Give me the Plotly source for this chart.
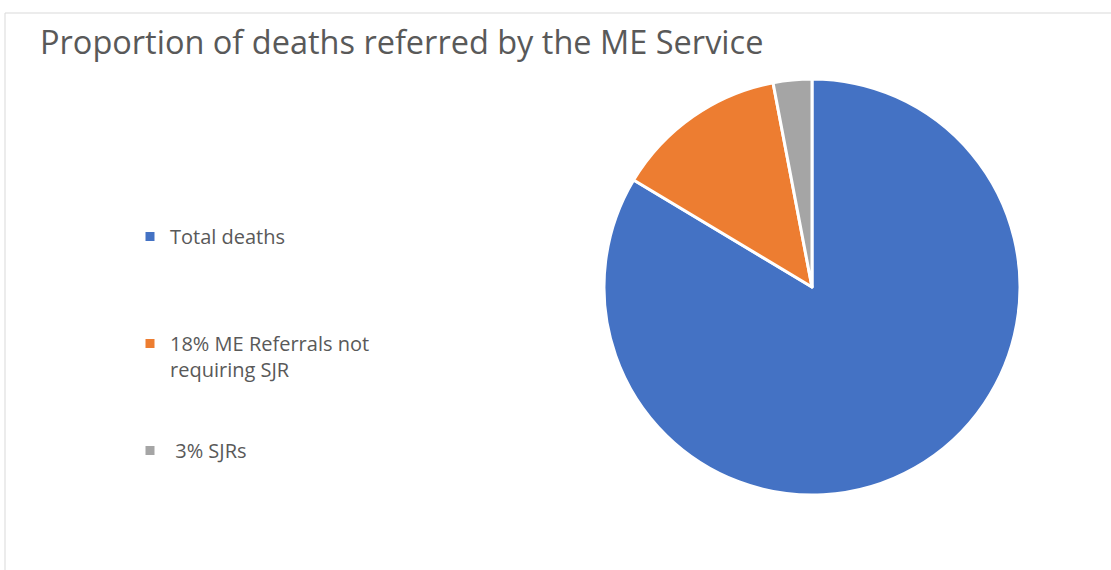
import plotly.graph_objects as go

# Slice categories and their shares of the pie
categories = ["Total deaths", "18% ME Referrals not<br>requiring SJR", " 3% SJRs"]
shares = [83.6, 13.4, 3.0]
colors = ["#4472C4", "#ED7D31", "#A5A5A5"]

# Blank lines after each legend label spread the entries down the left side
pad_lines = [3, 2, 0]
legend_labels = [c + "<br>&nbsp;" * n for c, n in zip(categories, pad_lines)]

W, H = 1111, 570
cx, cy, r = 812, 287, 208  # pie centre and radius in pixels

fig = go.Figure(
    go.Pie(
        labels=legend_labels,
        values=shares,
        sort=False,
        direction="clockwise",
        rotation=0,
        marker=dict(colors=colors, line=dict(color="white", width=3)),
        textinfo="none",
        hoverinfo="label+percent",
        domain=dict(
            x=[(cx - r) / W, (cx + r) / W],
            y=[(H - cy - r) / H, (H - cy + r) / H],
        ),
    )
)

fig.update_layout(
    width=W,
    height=H,
    margin=dict(l=0, r=0, t=0, b=0),
    paper_bgcolor="white",
    plot_bgcolor="white",
    title=dict(
        text="Proportion of deaths referred by the ME Service",
        x=40 / W,
        xanchor="left",
        y=1 - 43 / H,
        yanchor="middle",
        font=dict(family="Open Sans", size=32.5, color="#595959"),
    ),
    showlegend=True,
    legend=dict(
        x=130 / W,
        xanchor="left",
        y=1 - 217 / H,
        yanchor="top",
        valign="top",
        font=dict(family="Open Sans", size=20, color="#595959"),
        bgcolor="rgba(0,0,0,0)",
    ),
    shapes=[
        # chart frame: top and left edges visible, rest runs off the page
        dict(
            type="rect",
            xref="paper",
            yref="paper",
            x0=5 / W,
            x1=1.02,
            y0=-0.05,
            y1=1 - 13 / H,
            line=dict(color="#D9D9D9", width=1),
            fillcolor="rgba(0,0,0,0)",
            layer="below",
        )
    ],
)

fig.write_html("out.html")
